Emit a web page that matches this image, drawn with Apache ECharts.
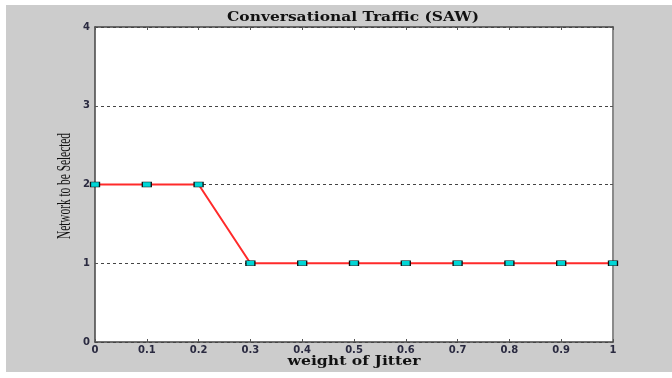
<!DOCTYPE html>
<html>
<head>
<meta charset="utf-8">
<script src="https://cdn.jsdelivr.net/npm/echarts@6/dist/echarts.min.js"></script>
<style>
  html, body { margin: 0; padding: 0; background: #ffffff; }
  #chart { width: 672px; height: 378px; }
</style>
</head>
<body>
<div id="chart"></div>
<script>
// Weight of jitter and the network chosen by SAW for conversational traffic
const weights = [0, 0.1, 0.2, 0.3, 0.4, 0.5, 0.6, 0.7, 0.8, 0.9, 1];
const selectedNetwork = [2, 2, 2, 1, 1, 1, 1, 1, 1, 1, 1];
const titleText = 'Conversational Traffic (SAW)';
const xName = 'weight of Jitter';
const yName = 'Network to be Selected';

// Measure text so labels can be stretched to the figure's proportions
const ctx = document.createElement('canvas').getContext('2d');
function textWidth(str, font) { ctx.font = font; return ctx.measureText(str).width; }

const titleFont = 'bold 13px "DejaVu Serif"';
const xNameFont = 'bold 12px "DejaVu Serif"';
const yNameFont = '18px "Liberation Serif"';
const titleScale = 252 / textWidth(titleText, titleFont);
const xNameScale = 133 / textWidth(xName, xNameFont);
const yNameScale = 106 / textWidth(yName, yNameFont);

const tickLabel = { fontFamily: 'DejaVu Sans', fontWeight: 'bold', fontSize: 10, color: '#2a2a40' };
const frameLine = { show: true, onZero: false, lineStyle: { color: '#444444', width: 1.5 } };
const innerTick = { show: true, inside: true, length: 3, lineStyle: { color: '#555555', width: 1 } };

const chart = echarts.init(document.getElementById('chart'), null, { renderer: 'canvas' });
chart.setOption({
  animation: false,
  backgroundColor: '#ffffff',
  graphic: [
    { type: 'rect', z: -10, shape: { x: 6, y: 5, width: 666, height: 367 }, style: { fill: '#cccccc' } },
    { type: 'text', z: 10, x: 353, y: 18, scaleX: titleScale,
      style: { text: titleText, font: titleFont, fill: '#111111', textAlign: 'center', textVerticalAlign: 'middle' } },
    { type: 'text', z: 10, x: 354, y: 362, scaleX: xNameScale,
      style: { text: xName, font: xNameFont, fill: '#111111', textAlign: 'center', textVerticalAlign: 'middle' } },
    { type: 'text', z: 10, x: 65, y: 186, rotation: Math.PI / 2, scaleX: yNameScale,
      style: { text: yName, font: yNameFont, fill: '#111111', textAlign: 'center', textVerticalAlign: 'middle' } }
  ],
  grid: { left: 95, right: 59, top: 27, bottom: 36, show: true, backgroundColor: '#ffffff', borderWidth: 0 },
  xAxis: [
    { type: 'value', position: 'bottom', min: 0, max: 1, interval: 0.1, z: 3,
      axisLine: frameLine, axisTick: innerTick, splitLine: { show: false },
      axisLabel: Object.assign({ margin: 3, formatter: v => String(+v.toFixed(1)) }, tickLabel) },
    { type: 'value', position: 'top', min: 0, max: 1, interval: 0.1, z: 3,
      axisLine: frameLine, axisTick: innerTick, splitLine: { show: false }, axisLabel: { show: false } }
  ],
  yAxis: [
    { type: 'value', position: 'left', min: 0, max: 4, interval: 1, z: 2,
      axisLine: frameLine, axisTick: innerTick,
      splitLine: { show: true, lineStyle: { color: '#444444', width: 1, type: [3, 3] } },
      axisLabel: Object.assign({ margin: 5 }, tickLabel) },
    { type: 'value', position: 'right', min: 0, max: 4, interval: 1, z: 3,
      axisLine: { show: true, onZero: false, lineStyle: { color: '#8a8a8a', width: 2 } },
      axisTick: innerTick, splitLine: { show: false }, axisLabel: { show: false } }
  ],
  series: [{
    type: 'line',
    xAxisIndex: 0, yAxisIndex: 0,
    data: weights.map((w, i) => [w, selectedNetwork[i]]),
    lineStyle: { color: '#ff2a2a', width: 2 },
    itemStyle: { color: '#00d6d6', borderColor: '#111111', borderWidth: 1 },
    symbol: 'rect',
    symbolSize: [9, 5],
    showSymbol: true,
    clip: false,
    z: 5
  }]
});
</script>
</body>
</html>
